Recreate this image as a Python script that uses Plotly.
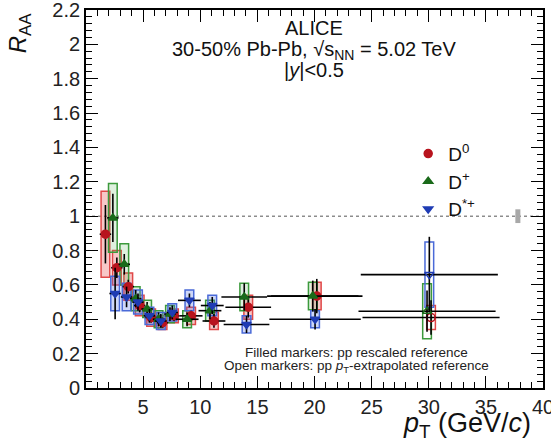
import plotly.graph_objects as go

# ---------------- data ----------------
pt_d0 = [1.5, 2.5, 3.5, 4.5, 5.5, 6.5, 7.5, 9, 11, 14, 20, 30]
hw_d0 = [0.5, 0.5, 0.5, 0.5, 0.5, 0.5, 0.5, 1, 1, 2, 4, 6]
raa_d0 = [0.895, 0.70, 0.59, 0.48, 0.41, 0.38, 0.42, 0.42, 0.39, 0.47, 0.535, 0.41]
stat_d0 = [0.17, 0.06, 0.04, 0.04, 0.03, 0.03, 0.03, 0.03, 0.04, 0.06, 0.10, 0.10]
syst_d0 = [0.25, 0.10, 0.08, 0.06, 0.05, 0.04, 0.04, 0.05, 0.05, 0.07, 0.08, 0.07]

pt_dp = [2.5, 3.5, 4.5, 5.5, 6.5, 7.5, 9, 11, 14, 20, 30]
hw_dp = [0.5, 0.5, 0.5, 0.5, 0.5, 0.5, 1, 1, 2, 4, 6]
raa_dp = [0.99, 0.72, 0.52, 0.46, 0.40, 0.43, 0.40, 0.45, 0.53, 0.535, 0.447]
stat_dp = [0.14, 0.06, 0.05, 0.04, 0.04, 0.04, 0.04, 0.05, 0.08, 0.09, 0.12]
syst_dp = [0.20, 0.12, 0.07, 0.05, 0.05, 0.05, 0.05, 0.06, 0.08, 0.08, 0.16]

pt_ds = [2.5, 3.5, 4.5, 5.5, 6.5, 7.5, 9, 11, 14, 20, 30]
hw_ds = [0.5, 0.5, 0.5, 0.5, 0.5, 0.5, 1, 1, 2, 4, 6]
raa_ds = [0.55, 0.53, 0.50, 0.42, 0.39, 0.44, 0.51, 0.48, 0.37, 0.40, 0.66]
stat_ds = [0.15, 0.06, 0.05, 0.04, 0.04, 0.04, 0.04, 0.05, 0.05, 0.06, 0.22]
syst_ds = [0.10, 0.08, 0.07, 0.05, 0.05, 0.05, 0.06, 0.06, 0.05, 0.05, 0.19]

species = [
    dict(name="D<sup>0</sup>", pt=pt_d0, hw=hw_d0, y=raa_d0, stat=stat_d0, syst=syst_d0,
         color="#b8141e", line="#e04848", fill="rgba(230,70,70,0.30)", symbol="circle", dx=0.2),
    dict(name="D<sup>+</sup>", pt=pt_dp, hw=hw_dp, y=raa_dp, stat=stat_dp, syst=syst_dp,
         color="#1a6a1a", line="#3c9a3c", fill="rgba(80,170,80,0.18)", symbol="triangle-up", dx=-0.15),
    dict(name="D<sup>*+</sup>", pt=pt_ds, hw=hw_ds, y=raa_ds, stat=stat_ds, syst=syst_ds,
         color="#1f3cb4", line="#4a6ad8", fill="rgba(80,110,230,0.28)", symbol="triangle-down", dx=0.05),
]
open_from_pt = 24  # points above use pT-extrapolated reference (open markers)

norm_pt = 37.8
norm_unc = 0.04

box_w = 0.38

fig = go.Figure()
shapes = []

# reference line at 1
shapes.append(dict(type="line", xref="x", yref="y", x0=0, x1=40, y0=1, y1=1,
                   line=dict(color="#555555", width=1, dash="dot"), layer="below"))
# normalisation box
shapes.append(dict(type="rect", xref="x", yref="y", x0=norm_pt - 0.22, x1=norm_pt + 0.22,
                   y0=1 - norm_unc, y1=1 + norm_unc, fillcolor="#a8a8a8",
                   line=dict(width=0), layer="below"))

for s in species:
    xs = [p + s["dx"] for p in s["pt"]]
    for x, y, e, p in zip(xs, s["y"], s["syst"], s["pt"]):
        is_open = p > open_from_pt
        shapes.append(dict(type="rect", xref="x", yref="y", x0=x - box_w, x1=x + box_w,
                           y0=y - e, y1=y + e,
                           fillcolor="rgba(255,255,255,0)" if is_open else s["fill"],
                           line=dict(color=s["line"], width=1.5), layer="below"))

for s in species:
    xs = [p + s["dx"] for p in s["pt"]]
    for is_open in (False, True):
        idx = [i for i, p in enumerate(s["pt"]) if (p > open_from_pt) == is_open]
        if not idx:
            continue
        fig.add_trace(go.Scatter(
            x=[xs[i] for i in idx], y=[s["y"][i] for i in idx],
            mode="markers",
            name=s["name"],
            showlegend=not is_open,
            marker=dict(symbol=s["symbol"] + ("-open" if is_open else ""), size=8,
                        color=s["color"], line=dict(color=s["color"], width=1.5)),
            error_y=dict(type="data", array=[s["stat"][i] for i in idx],
                         color="black", thickness=1.6, width=0),
            error_x=dict(type="data", array=[s["hw"][i] for i in idx],
                         color="black", thickness=1.6, width=0),
        ))

font = "Liberation Sans, Arial, sans-serif"

annotations = [
    dict(text="ALICE", x=0.499, y=0.952, xref="paper", yref="paper", yanchor="middle",
         showarrow=False, font=dict(size=20, family=font, color="#111111")),
    dict(text="30-50% Pb-Pb, √s<sub>NN</sub> = 5.02 TeV", x=0.499, y=0.893, xref="paper",
         yref="paper", yanchor="middle",
         showarrow=False, font=dict(size=20, family=font, color="#111111")),
    dict(text="|<i>y</i>|<0.5", x=0.499, y=0.842, xref="paper", yref="paper", yanchor="middle",
         showarrow=False, font=dict(size=20, family=font, color="#111111")),
    dict(text="Filled markers: pp rescaled reference", x=0.592, y=0.095, xref="paper",
         yref="paper", yanchor="middle",
         showarrow=False, font=dict(size=13.5, family=font, color="#222222")),
    dict(text="Open markers: pp <i>p</i><sub>T</sub>-extrapolated reference", x=0.592, y=0.058,
         xref="paper", yref="paper", yanchor="middle",
         showarrow=False, font=dict(size=13.5, family=font, color="#222222")),
    dict(text="<i>p</i><sub>T</sub> (GeV/<i>c</i>)", x=0.978, y=-0.099, xref="paper", yref="paper",
         xanchor="right", yanchor="middle", showarrow=False,
         font=dict(size=27, family=font, color="#111111")),
    dict(text="<i>R</i><sub>AA</sub>", x=-0.145, y=1.0, xref="paper", yref="paper",
         xanchor="center", yanchor="top", textangle=-90, showarrow=False,
         font=dict(size=24, family=font, color="#111111")),
]

axis_common = dict(showline=True, linecolor="black", linewidth=1.8, mirror="allticks",
                   ticks="inside", ticklen=12, tickwidth=1.3, tickcolor="black",
                   showgrid=False, zeroline=False, ticklabeloverflow="allow",
                   automargin=False,
                   tickfont=dict(size=20, family=font, color="#222222"))

fig.update_layout(
    width=551, height=443,
    margin=dict(l=86, r=8, t=10, b=55),
    paper_bgcolor="white", plot_bgcolor="white",
    shapes=shapes, annotations=annotations,
    xaxis=dict(range=[0, 40], tickvals=[5, 10, 15, 20, 25, 30, 35, 40],
               minor=dict(ticks="inside", ticklen=6, dtick=1, tickcolor="black", tickwidth=1),
               **axis_common),
    yaxis=dict(range=[0, 2.2], tickvals=[0, 0.2, 0.4, 0.6, 0.8, 1, 1.2, 1.4, 1.6, 1.8, 2, 2.2],
               ticktext=["0", "0.2", "0.4", "0.6", "0.8", "1", "1.2", "1.4", "1.6", "1.8", "2", "2.2"],
               minor=dict(ticks="inside", ticklen=6, dtick=0.04, tickcolor="black", tickwidth=1),
               **axis_common),
    legend=dict(x=0.705, y=0.67, xanchor="left", yanchor="top", bgcolor="rgba(0,0,0,0)",
                font=dict(size=19, family=font, color="#111111"), itemwidth=30),
)

fig.write_html("out.html")
